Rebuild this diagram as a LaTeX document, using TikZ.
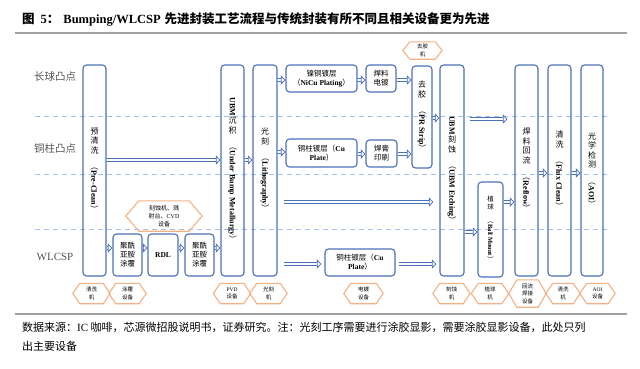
\documentclass[tikz,border=0pt]{standalone}
\usepackage{fontspec}
\usepackage{graphicx}
\setmainfont{Liberation Serif}
\newfontfamily\cjk{Noto Sans CJK SC}
\usetikzlibrary{arrows.meta}
\definecolor{bblue}{HTML}{4A70B5}
\definecolor{dblue}{HTML}{A7BFE8}
\definecolor{horange}{HTML}{F4B183}
\definecolor{lgray}{HTML}{A0A0A0}
\definecolor{tgray}{HTML}{555555}
\newcommand\lat{\rmfamily\bfseries}
\newcommand\vlat[1]{\rotatebox{-90}{（{\lat #1}）}}
\newcommand\hexify[2]{\draw[hexline] (#1.west) -- ([xshift=#2]#1.north west) -- ([xshift=-#2]#1.north east) -- (#1.east) -- ([xshift=-#2]#1.south east) -- ([xshift=#2]#1.south west) -- cycle;}
\begin{document}
\begin{tikzpicture}[x=1bp,y=-1bp,
 box/.style={draw=bblue, line width=1.1bp, rounded corners=3.5bp, inner sep=0pt, align=center, font=\cjk\fontsize{7.5bp}{9bp}\selectfont},
 vbox/.style={box, font=\cjk\fontsize{8bp}{9.5bp}\selectfont},
 hexlab/.style={inner sep=0pt, align=center, font=\cjk\fontsize{5.5bp}{7.5bp}\selectfont, minimum height=20bp, minimum width=37bp},
 hexline/.style={draw=horange, line width=1.1bp},
 harrow/.style={draw=bblue, line width=0.75bp, double=white, double distance=2.2bp, -{Triangle[open, length=4.5bp, width=9bp]}},
 dline/.style={draw=dblue, line width=0.9bp, dash pattern=on 5bp off 4bp},
 rowlab/.style={font=\cjk\fontsize{10.5bp}{12bp}\selectfont, text=tgray}
]
\useasboundingbox (0,0) rectangle (640,368);
% title
\node[anchor=west, inner sep=0pt, font=\cjk\bfseries\fontsize{12.5bp}{14bp}\selectfont] (title) at (22,19) {图\hspace{6bp}{\lat 5}：\hspace{4bp}{\lat Bumping/WLCSP}\hspace{4bp}先进封装工艺流程与传统封装有所不同且相关设备更为先进};
\draw[lgray, line width=1.5bp] (15,33) -- (627,33);
% dashed separators
\draw[dline] (35,116) -- (610,116);
\draw[dline] (35,174) -- (610,174);
\draw[dline] (35,229) -- (610,229);
% row labels
\node[rowlab] (r1) at (55,77) {长球凸点};
\node[rowlab] (r2) at (55,149) {铜柱凸点};
\node[rowlab, font=\rmfamily\fontsize{11bp}{12bp}\selectfont] (r3) at (55,257) {WLCSP};
% tall boxes
\node[vbox, minimum width=23bp, minimum height=211bp] (pre) at (94.5,170.5) {预\\清\\洗\\\vlat{Pre-Clean}};
\node[vbox, minimum width=23bp, minimum height=211bp] (ubmd) at (232.5,170.5) {\rotatebox{-90}{\lat UBM}\\沉\\积\\\vlat{Under Bump Metallurgy}};
\node[vbox, minimum width=24bp, minimum height=211bp] (litho) at (265,170.5) {光\\刻\\\vlat{Lithography}};
\node[vbox, minimum width=20bp, minimum height=102bp] (strip) at (422,117) {去\\胶\\\vlat{PR Strip}};
\node[vbox, minimum width=24bp, minimum height=211bp] (ubme) at (452,170.5) {\rotatebox{-90}{\lat UBM}\\刻\\蚀\\\vlat{UBM Etching}};
\node[vbox, minimum width=25bp, minimum height=95bp, font=\cjk\fontsize{6.5bp}{8bp}\selectfont] (ball) at (490.5,229.5) {植\\球\\\vlat{Ball Mount}};
\node[vbox, minimum width=23bp, minimum height=211bp] (reflow) at (526.5,170.5) {焊\\料\\回\\流\\\vlat{Reflow}};
\node[vbox, minimum width=23bp, minimum height=211bp] (flux) at (559.5,170.5) {清\\洗\\\vlat{Flux Clean}};
\node[vbox, minimum width=22bp, minimum height=211bp] (aoi) at (592,170.5) {光\\学\\检\\测\\\vlat{AOI}};
% small boxes
\node[box, minimum width=71bp, minimum height=27bp] (nicu) at (321.5,78.5) {镍铜镀层\\（{\lat NiCu Plating}）};
\node[box, minimum width=30bp, minimum height=27bp] (solder) at (381,78.5) {焊料\\电镀};
\node[box, minimum width=71bp, minimum height=28bp] (cu1) at (321.5,153) {铜柱镀层（{\lat Cu}\\{\lat Plate}）};
\node[box, minimum width=31bp, minimum height=27bp] (paste) at (381.5,153.5) {焊膏\\印刷};
\node[box, minimum width=70bp, minimum height=27bp] (cu2) at (360,262.5) {铜柱镀层（{\lat Cu}\\{\lat Plate}）};
\node[box, minimum width=29bp, minimum height=42bp] (pi1) at (127.5,255) {聚酰\\亚胺\\涂覆};
\node[box, minimum width=30bp, minimum height=42bp, font=\lat\fontsize{7.5bp}{9bp}\selectfont] (rdl) at (163,255) {RDL};
\node[box, minimum width=29bp, minimum height=42bp] (pi2) at (199.5,255) {聚酰\\亚胺\\涂覆};
% arrows
\draw[harrow] (pre.east |- 0,160) -- (ubmd.west |- 0,160);
\draw[harrow] (pre.east |- 0,248) -- (pi1.west |- 0,248);
\draw[harrow] (pi1.east |- 0,248) -- (rdl.west |- 0,248);
\draw[harrow] (rdl.east |- 0,248) -- (pi2.west |- 0,248);
\draw[harrow] (pi2.east |- 0,248) -- (ubmd.west |- 0,248);
\draw[harrow] (ubmd.east |- 0,160) -- (litho.west |- 0,160);
\draw[harrow] (litho.east |- 0,80) -- (nicu.west |- 0,80);
\draw[harrow] (litho.east |- 0,152) -- (cu1.west |- 0,152);
\draw[harrow] (nicu.east |- 0,80) -- (solder.west |- 0,80);
\draw[harrow] (solder.east |- 0,80) -- (strip.west |- 0,80);
\draw[harrow] (cu1.east |- 0,154) -- (paste.west |- 0,154);
\draw[harrow] (paste.east |- 0,154) -- (strip.west |- 0,154);
\draw[harrow] (strip.east |- 0,118) -- (ubme.west |- 0,118);
\draw[harrow, shorten <=6bp, shorten >=6bp] (litho.east |- 0,202) -- (ubme.west |- 0,202);
\draw[harrow, shorten <=6bp, shorten >=3bp] (litho.east |- 0,264) -- (cu2.west |- 0,264);
\draw[harrow, shorten <=3bp, shorten >=3bp] (cu2.east |- 0,264) -- (ubme.west |- 0,264);
\draw[harrow, shorten <=5bp, shorten >=7bp] (ubme.east |- 0,119) -- (reflow.west |- 0,119);
\draw[harrow] (ubme.east |- 0,232) -- (ball.west |- 0,232);
\draw[harrow] (ball.east |- 0,202) -- (reflow.west |- 0,202);
\draw[harrow] (reflow.east |- 0,173) -- (flux.west |- 0,173);
\draw[harrow] (flux.east |- 0,173) -- (aoi.west |- 0,173);
% equipment hexagons
\node[hexlab, minimum width=39bp, minimum height=17bp] (hstrip) at (422.5,50.5) {去胶\\机};
\node[hexlab, minimum width=76bp, minimum height=30bp, font=\cjk\fontsize{6bp}{8bp}\selectfont] (hetch) at (164,216) {刻蚀机、溅\\射台、{\rmfamily CVD}\\设备};
\node[hexlab] (e1) at (91.5,293.5) {清洗\\机};
\node[hexlab] (e2) at (127.5,293.5) {涂覆\\设备};
\node[hexlab] (e3) at (232,293.5) {{\rmfamily PVD}\\设备};
\node[hexlab] (e4) at (268.5,293.5) {光刻\\机};
\node[hexlab, minimum width=39bp] (e5) at (363.5,293.5) {电镀\\设备};
\node[hexlab] (e6) at (451.5,293.5) {刻蚀\\机};
\node[hexlab] (e7) at (490,293.5) {植球\\机};
\node[hexlab, minimum height=27bp] (e8) at (527.5,293.5) {回流\\焊接\\设备};
\node[hexlab, minimum width=34bp] (e9) at (563,293.5) {清洗\\机};
\node[hexlab, minimum width=35bp] (e10) at (597.5,293.5) {{\rmfamily AOI}\\设备};
\hexify{hstrip}{7bp}
\hexify{hetch}{13bp}
\foreach \h in {e1,e2,e3,e4,e5,e6,e7,e9,e10} {\hexify{\h}{7bp}}
\hexify{e8}{8bp}
% source
\draw[lgray, line width=1.5bp] (15,314) -- (627,314);
\node[anchor=west, inner sep=0pt, font=\cjk\fontsize{11bp}{13bp}\selectfont] (src1) at (22,327) {数据来源：{\rmfamily IC} 咖啡，芯源微招股说明书，证券研究。注：光刻工序需要进行涂胶显影，需要涂胶显影设备，此处只列};
\node[anchor=west, inner sep=0pt, font=\cjk\fontsize{11bp}{13bp}\selectfont] (src2) at (22,346) {出主要设备};
\end{tikzpicture}
\end{document}
